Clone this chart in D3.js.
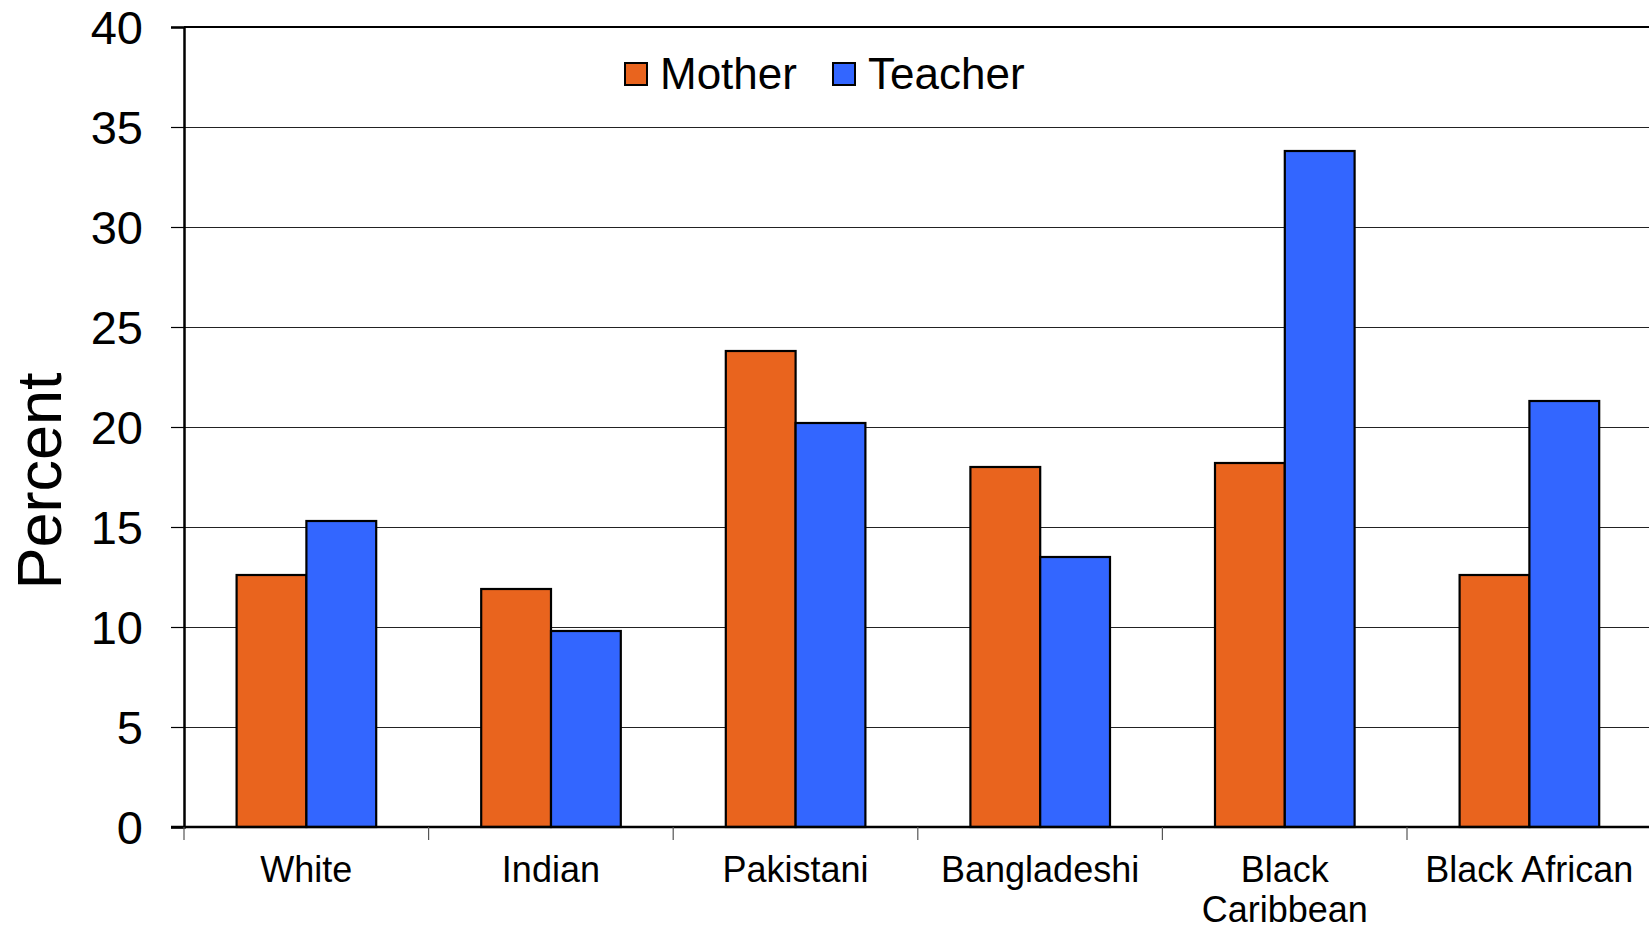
<!DOCTYPE html>
<html>
<head>
<meta charset="UTF-8">
<title>Percent by group</title>
<script src="https://cdn.jsdelivr.net/npm/d3@7"></script>
<style>
  body { margin: 0; background: #fff; }
  text { font-family: "Liberation Sans", Arial, sans-serif; fill: #000; }
</style>
</head>
<body>
<svg width="1649" height="930"></svg>
<script>
// data
var categories = ["White", "Indian", "Pakistani", "Bangladeshi", "Black Caribbean", "Black African"];
var series = ["Mother", "Teacher"];
var mother = [12.6, 11.9, 23.8, 18.0, 18.2, 12.6];
var teacher = [15.3, 9.8, 20.2, 13.5, 33.8, 21.3];
var yTicks = [0, 5, 10, 15, 20, 25, 30, 35, 40];
var colors = ["#E9641E", "#3366FF"];

var values = [mother, teacher];
var rows = categories.map(function(c, i) {
  return { cat: c, vals: series.map(function(s, j) { return { key: s, value: values[j][i] }; }) };
});

var svg = d3.select("svg");
var plotLeft = 184, plotTop = 27, plotBottom = 827;
var step = 244.6;

var x0 = d3.scaleBand().domain(categories).range([plotLeft, plotLeft + step * categories.length]);
var x1 = d3.scaleBand().domain(series).range([52.6, 52.6 + 139.6]);
var y = d3.scaleLinear().domain([0, 40]).range([plotBottom, plotTop]);
var color = d3.scaleOrdinal().domain(series).range(colors);

// gridlines
svg.append("g")
  .selectAll("line")
  .data(yTicks.filter(function(t) { return t > 0 && t < 40; }))
  .enter().append("line")
  .attr("x1", plotLeft).attr("x2", 1649)
  .attr("y1", function(d) { return y(d) + 0.5; })
  .attr("y2", function(d) { return y(d) + 0.5; })
  .attr("stroke", "#222").attr("stroke-width", 1);

// top border of plot
svg.append("line")
  .attr("x1", plotLeft).attr("x2", 1649)
  .attr("y1", plotTop).attr("y2", plotTop)
  .attr("stroke", "#000").attr("stroke-width", 2);

// bars
var groups = svg.append("g").selectAll("g")
  .data(rows)
  .enter().append("g")
  .attr("transform", function(d) { return "translate(" + x0(d.cat) + ",0)"; });

groups.selectAll("rect")
  .data(function(d) { return d.vals; })
  .enter().append("rect")
  .attr("x", function(d) { return x1(d.key); })
  .attr("width", x1.bandwidth())
  .attr("y", function(d) { return y(d.value); })
  .attr("height", function(d) { return plotBottom - y(d.value); })
  .attr("fill", function(d) { return color(d.key); })
  .attr("stroke", "#000").attr("stroke-width", 2.2);

// y axis
var yAxis = svg.append("g")
  .attr("transform", "translate(" + plotLeft + ",0)")
  .call(d3.axisLeft(y).tickValues(yTicks).tickSize(13).tickPadding(28));
yAxis.select(".domain").attr("stroke", "#000").attr("stroke-width", 2.5);
yAxis.selectAll(".tick line").attr("stroke", "#000").attr("stroke-width", 1.2);
yAxis.selectAll(".tick text")
  .style("font-size", "47px")
  .style("font-family", "'Liberation Sans', Arial, sans-serif")
  .attr("dy", "0.36em");

// x axis
var xAxis = svg.append("g")
  .attr("transform", "translate(0," + plotBottom + ")")
  .call(d3.axisBottom(x0).tickSize(0).tickPadding(0));
xAxis.select(".domain").remove();
xAxis.append("line")
  .attr("x1", plotLeft - 13).attr("x2", 1649)
  .attr("y1", 0).attr("y2", 0)
  .attr("stroke", "#000").attr("stroke-width", 2.5);
xAxis.selectAll(".sep")
  .data(d3.range(categories.length + 1))
  .enter().append("line")
  .attr("class", "sep")
  .attr("x1", function(i) { return plotLeft + i * x0.step(); })
  .attr("x2", function(i) { return plotLeft + i * x0.step(); })
  .attr("y1", 0).attr("y2", 13)
  .attr("stroke", "#555").attr("stroke-width", 1.2);
xAxis.selectAll(".tick text")
  .style("font-size", "36px")
  .style("font-family", "'Liberation Sans', Arial, sans-serif")
  .attr("y", 55).attr("dy", 0)
  .call(wrap, x0.step() - 8);

function wrap(sel, width) {
  sel.each(function() {
    var t = d3.select(this);
    var words = t.text().split(/\s+/);
    if (this.getComputedTextLength() <= width) return;
    t.text(null);
    words.forEach(function(w, i) {
      t.append("tspan").attr("x", 0).attr("dy", i === 0 ? 0 : 40).text(w);
    });
  });
}

// y title
svg.append("text")
  .attr("transform", "translate(61,481) rotate(-90)")
  .attr("text-anchor", "middle")
  .style("font-size", "63px")
  .text("Percent");

// legend
var legendX = [625, 833];
var legend = svg.append("g").selectAll("g")
  .data(series)
  .enter().append("g")
  .attr("transform", function(d, i) { return "translate(" + legendX[i] + ",63)"; });
legend.append("rect")
  .attr("width", 22).attr("height", 22)
  .attr("fill", function(d) { return color(d); })
  .attr("stroke", "#000").attr("stroke-width", 2);
legend.append("text")
  .attr("x", 35).attr("y", 26)
  .style("font-size", "44px")
  .text(function(d) { return d; });
</script>
</body>
</html>
